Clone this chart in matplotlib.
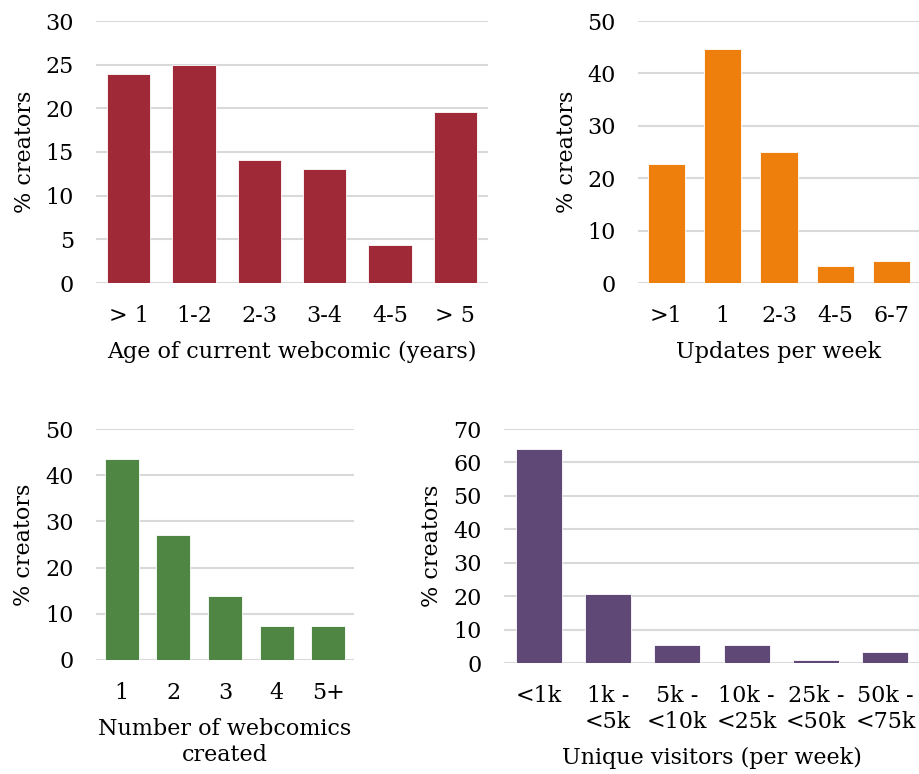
import matplotlib
matplotlib.use("Agg")
import matplotlib.pyplot as plt

plt.rcParams["font.family"] = ["DejaVu Serif"]

# Datos
edad_cats = ["> 1", "1-2", "2-3", "3-4", "4-5", "> 5"]
edad_vals = [23.9, 25.0, 14.1, 13.0, 4.3, 19.6]

updates_cats = [">1", "1", "2-3", "4-5", "6-7"]
updates_vals = [22.7, 44.7, 25.0, 3.2, 4.2]

num_cats = ["1", "2", "3", "4", "5+"]
num_vals = [43.5, 27.1, 13.9, 7.4, 7.4]

visit_cats = ["<1k", "1k -\n<5k", "5k -\n<10k", "10k -\n<25k", "25k -\n<50k", "50k -\n<75k"]
visit_vals = [64.0, 20.6, 5.3, 5.3, 1.0, 3.2]

W, H = 920, 774
FS = 16
fig = plt.figure(figsize=(W / 100, H / 100), dpi=100)


def panel(px_left, px_top, px_right, px_bottom, cats, vals, color, ymax, step,
          xlabel, ylabel_x):
    ax = fig.add_axes([px_left / W, 1 - px_bottom / H,
                       (px_right - px_left) / W, (px_bottom - px_top) / H])
    x = list(range(len(cats)))
    ax.bar(x, vals, width=0.66, color=color, edgecolor="white", linewidth=0.6,
           zorder=3)
    ax.set_xlim(-0.5, len(cats) - 0.5)
    ax.set_ylim(0, ymax)
    ax.set_yticks(range(0, ymax + 1, step))
    ax.yaxis.grid(True, color="#d9d9d9", linewidth=1.5, zorder=0)
    ax.set_axisbelow(True)
    for s in ax.spines.values():
        s.set_visible(False)
    ax.set_xticks(x)
    ax.set_xticklabels(cats, linespacing=1.25)
    ax.tick_params(axis="both", length=0, labelsize=FS, colors="black")
    ax.tick_params(axis="y", pad=16)
    ax.tick_params(axis="x", pad=16)
    ax.set_xlabel(xlabel, fontsize=FS, labelpad=10, linespacing=1.25)
    ax.set_ylabel("% creators", fontsize=FS)
    ax.yaxis.set_label_coords((ylabel_x - px_left) / (px_right - px_left), 0.5)
    return ax


panel(96, 21, 488, 283, edad_cats, edad_vals, "#a02937", 30, 5,
      "Age of current webcomic (years)", 36)
panel(638, 21, 920, 283, updates_cats, updates_vals, "#ef7f0d", 50, 10,
      "Updates per week", 578)
panel(96, 429, 354, 660, num_cats, num_vals, "#4f8643", 50, 10,
      "Number of webcomics\ncreated", 35)
panel(504, 429, 920, 663, visit_cats, visit_vals, "#5f4876", 70, 10,
      "Unique visitors (per week)", 443)

fig.savefig("out.png", dpi=100)
